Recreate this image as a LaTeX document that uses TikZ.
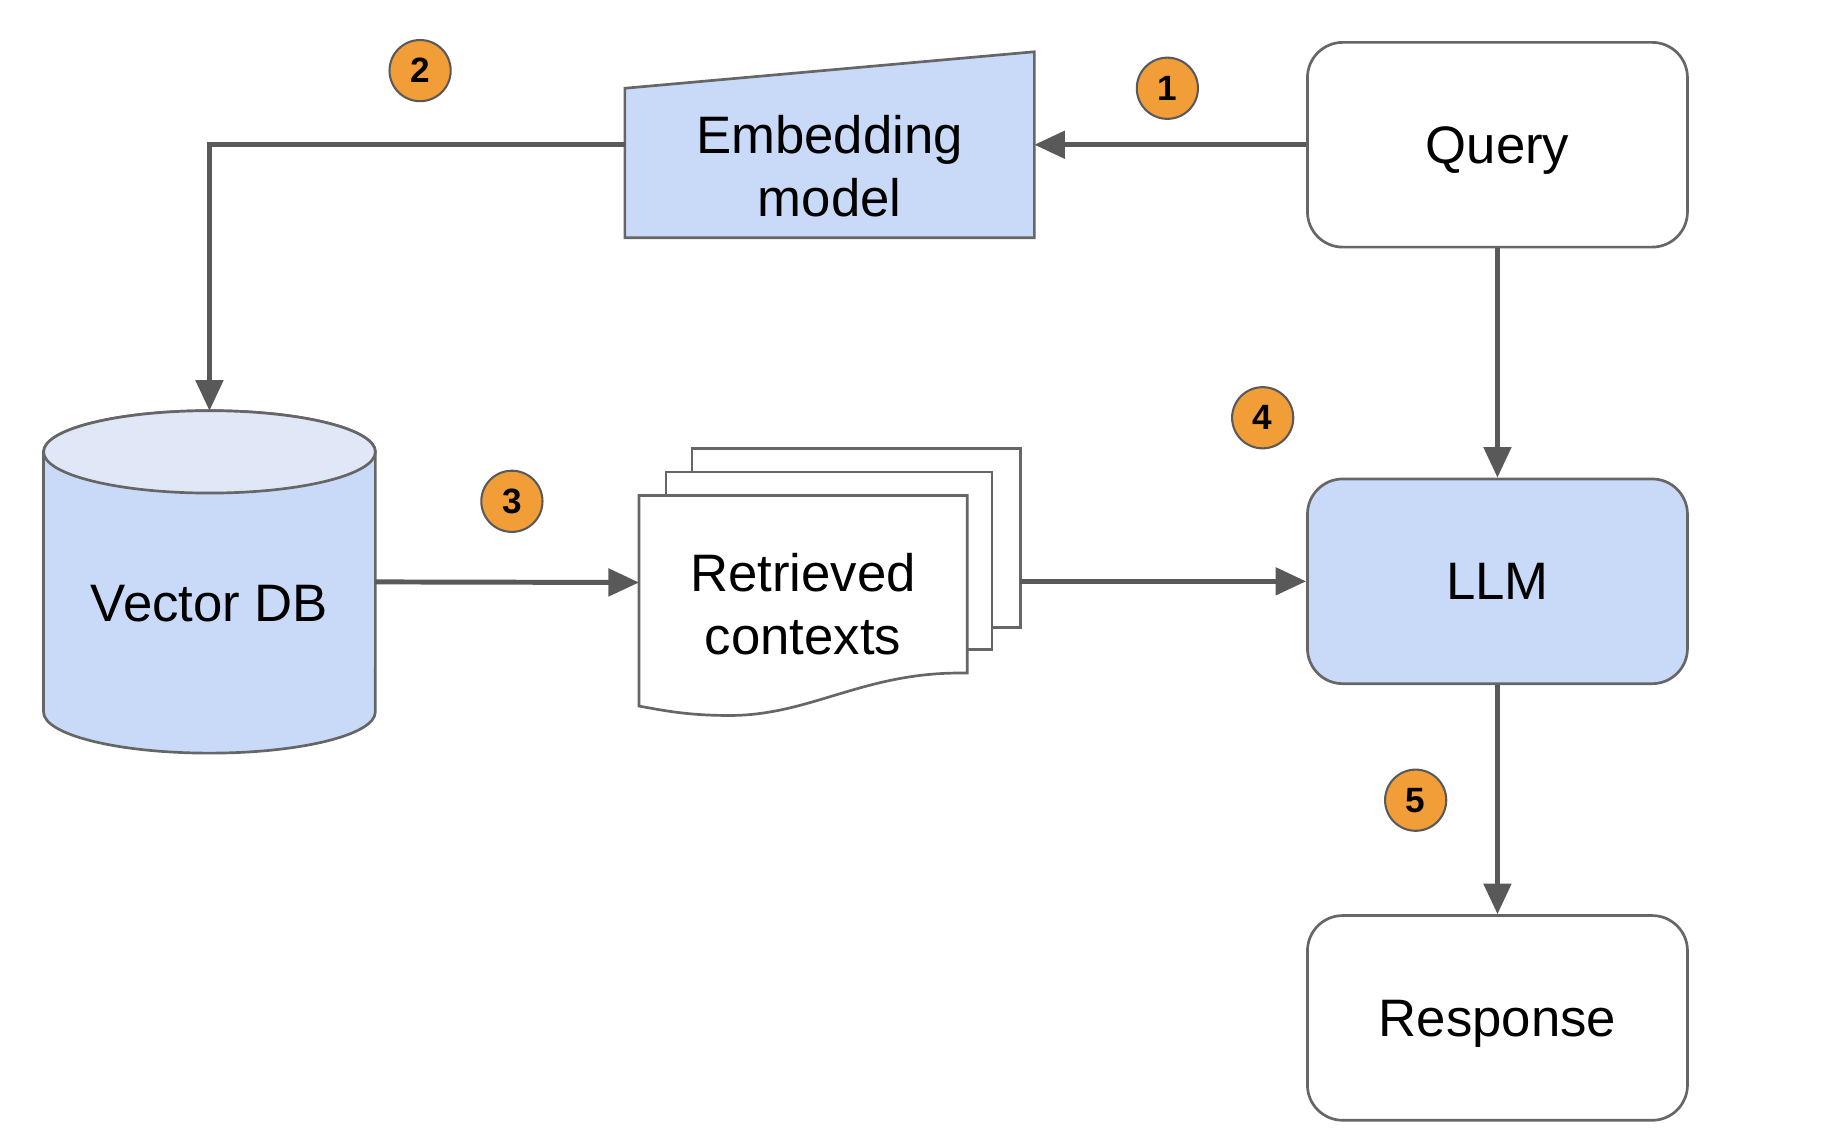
\documentclass[tikz,border=0pt]{standalone}
\usepackage{fontspec}
\setmainfont{Liberation Sans}
\usetikzlibrary{arrows.meta}
\definecolor{boxblue}{HTML}{C9DAF8}
\definecolor{toplight}{HTML}{E0E8F8}
\definecolor{bordergray}{HTML}{666666}
\definecolor{linegray}{HTML}{595959}
\definecolor{badgeorange}{HTML}{F19E38}
\tikzset{
  big/.style={font=\fontsize{25.5}{30.6}\selectfont},
  box/.style={big, rectangle, rounded corners=0.6cm, minimum width=6.46cm,
    minimum height=3.48cm, draw=bordergray, line width=1.3pt, fill=white, text depth=0pt},
  ghost/.style={rectangle, inner sep=0pt, outer sep=0pt},
  shapeline/.style={draw=bordergray, line width=1.3pt},
  conn/.style={draw=linegray, line width=2.4pt,
    -{Triangle[length=0.52cm,width=0.46cm]}},
  badge/.style={circle, minimum size=1.04cm, inner sep=0pt, fill=badgeorange,
    draw=linegray, line width=1pt, font=\fontsize{17}{20}\selectfont\bfseries, text depth=0pt},
  label/.style={big, align=center, text depth=0pt}
}
\begin{document}
\begin{tikzpicture}[x=0.02cm,y=-0.02cm]
\useasboundingbox (0,0) rectangle (1550,962);

% Query, LLM, Response
\node[box] (query) at (1272.5,123) {Query};
\node[box, fill=boxblue] (llm) at (1272.5,494) {LLM};
\node[box] (resp) at (1272.5,865) {Response};

% Embedding model (trapezoid)
\node[ghost, minimum width=6.96cm, minimum height=3.16cm] (emb) at (705,123) {};
\path[shapeline, fill=boxblue] (531,75) -- (879,44) -- (879,202) -- (531,202) -- cycle;
\node[label] (embt) at (705,141) {Embedding\\model};

% Vector DB (cylinder)
\node[ghost, minimum width=5.64cm, minimum height=5.82cm] (db) at (178,494.5) {};
\path[shapeline, fill=boxblue] (37,384) -- (37,605)
  arc[start angle=180, end angle=360, x radius=2.82cm, y radius=0.7cm]
  -- (319,384)
  arc[start angle=0, end angle=180, x radius=2.82cm, y radius=0.7cm] -- cycle;
\path[shapeline, fill=toplight] (178,384) ellipse [x radius=2.82cm, y radius=0.7cm];
\node[label] (dbt) at (178,513) {Vector DB};

% Retrieved contexts (stack of documents)
\node[ghost, minimum width=5.58cm, minimum height=3.04cm] (docback) at (727.5,457) {};
\node[ghost, minimum width=5.58cm, minimum height=2.96cm] (docfront) at (682.5,495) {};
\path[shapeline, fill=white] (588,381) rectangle (867,533);
\path[shapeline, fill=white] (566,401) rectangle (843,552);
\path[shapeline, fill=white] (543,421) -- (822,421) -- (822,572)
  .. controls (735,570) and (690,608) .. (620,608)
  .. controls (585,608) and (565,604) .. (543,600) -- cycle;
\node[label] (doct) at (682.5,513) {Retrieved\\contexts};

% Connectors
\draw[conn] (query.west) -- (emb.east);
\draw[conn] (emb.west) -| (db.north);
\draw[conn] (db.east) -- (docfront.west);
\draw[conn] (docback.east |- llm.west) -- (llm.west);
\draw[conn] (query.south) -- (llm.north);
\draw[conn] (llm.south) -- (resp.north);

% Step badges
\node[badge] (b1) at (992,75) {1};
\node[badge] (b2) at (357,60) {2};
\node[badge] (b3) at (435,426) {3};
\node[badge] (b4) at (1073,355) {4};
\node[badge] (b5) at (1203,680) {5};
\end{tikzpicture}
\end{document}
